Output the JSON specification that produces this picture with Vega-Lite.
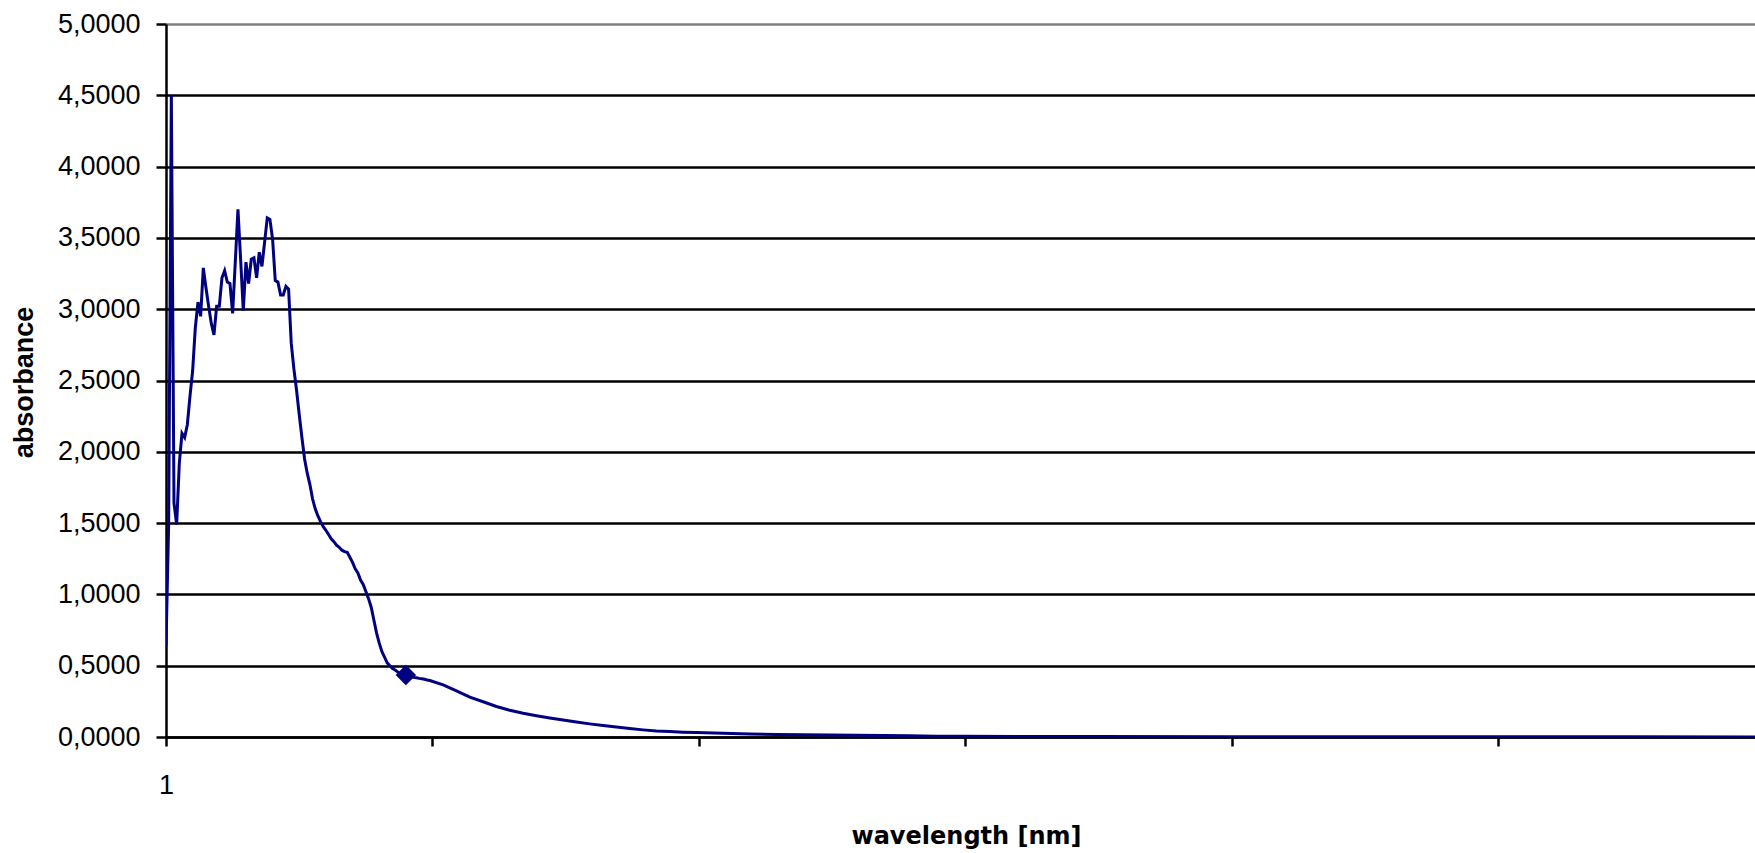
{
  "$schema": "https://vega.github.io/schema/vega-lite/v6.json",
  "autosize": {"type": "none"},
  "padding": {"left": 166, "top": 24, "right": 0, "bottom": 116},
  "width": 1589,
  "height": 713,
  "background": "white",
  "config": {"view": {"stroke": null}},
  "data": {"values": [
    {"n": 1, "absorbance": 0.64}, {"n": 2, "absorbance": 1.5}, {"n": 3, "absorbance": 4.5}, {"n": 4, "absorbance": 1.64},
    {"n": 5, "absorbance": 1.49}, {"n": 6, "absorbance": 1.92}, {"n": 7, "absorbance": 2.13}, {"n": 8, "absorbance": 2.1},
    {"n": 9, "absorbance": 2.19}, {"n": 10, "absorbance": 2.39}, {"n": 11, "absorbance": 2.57}, {"n": 12, "absorbance": 2.87},
    {"n": 13, "absorbance": 3.05}, {"n": 14, "absorbance": 2.95}, {"n": 15, "absorbance": 3.29}, {"n": 16, "absorbance": 3.15},
    {"n": 17, "absorbance": 3.02}, {"n": 18, "absorbance": 2.9}, {"n": 19, "absorbance": 2.82}, {"n": 20, "absorbance": 3.02},
    {"n": 21, "absorbance": 3.02}, {"n": 22, "absorbance": 3.22}, {"n": 23, "absorbance": 3.27}, {"n": 24, "absorbance": 3.19},
    {"n": 25, "absorbance": 3.18}, {"n": 26, "absorbance": 2.97}, {"n": 27, "absorbance": 3.33}, {"n": 28, "absorbance": 3.7},
    {"n": 29, "absorbance": 3.35}, {"n": 30, "absorbance": 2.99}, {"n": 31, "absorbance": 3.33}, {"n": 32, "absorbance": 3.18},
    {"n": 33, "absorbance": 3.35}, {"n": 34, "absorbance": 3.36}, {"n": 35, "absorbance": 3.22}, {"n": 36, "absorbance": 3.4},
    {"n": 37, "absorbance": 3.3}, {"n": 38, "absorbance": 3.47}, {"n": 39, "absorbance": 3.64}, {"n": 40, "absorbance": 3.63},
    {"n": 41, "absorbance": 3.49}, {"n": 42, "absorbance": 3.2}, {"n": 43, "absorbance": 3.19}, {"n": 44, "absorbance": 3.1},
    {"n": 45, "absorbance": 3.1}, {"n": 46, "absorbance": 3.16}, {"n": 47, "absorbance": 3.14}, {"n": 48, "absorbance": 2.76},
    {"n": 49, "absorbance": 2.58}, {"n": 50, "absorbance": 2.43}, {"n": 51, "absorbance": 2.26}, {"n": 52, "absorbance": 2.1},
    {"n": 53, "absorbance": 1.95}, {"n": 54, "absorbance": 1.85}, {"n": 55, "absorbance": 1.77}, {"n": 56, "absorbance": 1.67},
    {"n": 57, "absorbance": 1.6}, {"n": 58, "absorbance": 1.55}, {"n": 59, "absorbance": 1.51}, {"n": 60, "absorbance": 1.475},
    {"n": 61, "absorbance": 1.45}, {"n": 62, "absorbance": 1.42}, {"n": 63, "absorbance": 1.39}, {"n": 64, "absorbance": 1.37},
    {"n": 65, "absorbance": 1.345}, {"n": 66, "absorbance": 1.33}, {"n": 67, "absorbance": 1.31}, {"n": 68, "absorbance": 1.3},
    {"n": 69, "absorbance": 1.295}, {"n": 70, "absorbance": 1.26}, {"n": 71, "absorbance": 1.225}, {"n": 72, "absorbance": 1.18},
    {"n": 73, "absorbance": 1.15}, {"n": 74, "absorbance": 1.1}, {"n": 75, "absorbance": 1.07}, {"n": 76, "absorbance": 1.02},
    {"n": 77, "absorbance": 0.97}, {"n": 78, "absorbance": 0.91}, {"n": 79, "absorbance": 0.82}, {"n": 80, "absorbance": 0.73},
    {"n": 81, "absorbance": 0.66}, {"n": 82, "absorbance": 0.6}, {"n": 83, "absorbance": 0.56}, {"n": 84, "absorbance": 0.52},
    {"n": 85, "absorbance": 0.5}, {"n": 86, "absorbance": 0.48}, {"n": 87, "absorbance": 0.47}, {"n": 88, "absorbance": 0.455},
    {"n": 89, "absorbance": 0.445}, {"n": 90, "absorbance": 0.44}, {"n": 91, "absorbance": 0.435}, {"n": 92, "absorbance": 0.428},
    {"n": 93, "absorbance": 0.422}, {"n": 94, "absorbance": 0.418}, {"n": 95, "absorbance": 0.415}, {"n": 96, "absorbance": 0.411},
    {"n": 97, "absorbance": 0.408}, {"n": 98, "absorbance": 0.405}, {"n": 99, "absorbance": 0.4}, {"n": 100, "absorbance": 0.396},
    {"n": 105, "absorbance": 0.366}, {"n": 110, "absorbance": 0.324}, {"n": 115, "absorbance": 0.279}, {"n": 120, "absorbance": 0.247},
    {"n": 125, "absorbance": 0.214}, {"n": 130, "absorbance": 0.187}, {"n": 135, "absorbance": 0.166}, {"n": 140, "absorbance": 0.149},
    {"n": 145, "absorbance": 0.133}, {"n": 150, "absorbance": 0.119}, {"n": 155, "absorbance": 0.105}, {"n": 160, "absorbance": 0.092},
    {"n": 165, "absorbance": 0.081}, {"n": 170, "absorbance": 0.07}, {"n": 175, "absorbance": 0.06}, {"n": 180, "absorbance": 0.05},
    {"n": 185, "absorbance": 0.042}, {"n": 190, "absorbance": 0.038}, {"n": 195, "absorbance": 0.034}, {"n": 200, "absorbance": 0.031},
    {"n": 210, "absorbance": 0.026}, {"n": 220, "absorbance": 0.021}, {"n": 230, "absorbance": 0.018}, {"n": 240, "absorbance": 0.016},
    {"n": 250, "absorbance": 0.014}, {"n": 260, "absorbance": 0.012}, {"n": 270, "absorbance": 0.01}, {"n": 280, "absorbance": 0.008},
    {"n": 290, "absorbance": 0.006}, {"n": 300, "absorbance": 0.005}, {"n": 325, "absorbance": 0.004}, {"n": 350, "absorbance": 0.003},
    {"n": 400, "absorbance": 0.002}, {"n": 450, "absorbance": 0.0015}, {"n": 500, "absorbance": 0.001}, {"n": 550, "absorbance": 0.001},
    {"n": 601, "absorbance": 0.0005}
  ]},
  "layer": [
    {
      "mark": {"type": "line", "color": "#000080", "strokeWidth": 3, "clip": true},
      "encoding": {
        "x": {
          "field": "n", "type": "quantitative",
          "scale": {"domain": [1, 597.25], "nice": false, "zero": false},
          "axis": {
            "values": [1, 101, 201, 301, 401, 501],
            "grid": false,
            "domainColor": "black", "domainWidth": 2.5,
            "tickColor": "black", "tickWidth": 2.5, "tickSize": 9,
            "labelExpr": "datum.value == 1 ? '1' : ''",
            "labelFlush": false, "labelOverlap": false,
            "labelFont": "Liberation Sans", "labelFontSize": 27, "labelColor": "black", "labelPadding": 26,
            "title": "wavelength [nm]",
            "titleFont": "DejaVu Sans", "titleFontSize": 24, "titleFontWeight": "bold", "titleColor": "black",
            "titleX": 800, "titleY": 106, "titleBaseline": "alphabetic", "titleAlign": "center"
          }
        },
        "y": {
          "field": "absorbance", "type": "quantitative",
          "scale": {"domain": [0, 5], "nice": false},
          "axis": {
            "values": [0, 0.5, 1, 1.5, 2, 2.5, 3, 3.5, 4, 4.5, 5],
            "grid": true,
            "gridColor": {"condition": {"test": "datum.value == 5", "value": "#808080"}, "value": "black"},
            "gridWidth": 2.5,
            "domainColor": "black", "domainWidth": 2.5,
            "tickColor": "black", "tickWidth": 2.5, "tickSize": 10,
            "labelExpr": "replace(format(datum.value, '.4f'), '.', ',')",
            "labelFont": "Liberation Sans", "labelFontSize": 27, "labelColor": "black", "labelPadding": 16,
            "title": "absorbance",
            "titleFont": "Liberation Sans", "titleFontSize": 27, "titleFontWeight": "bold", "titleColor": "black",
            "titleAngle": 270, "titleX": -134, "titleY": 358, "titleBaseline": "alphabetic", "titleAlign": "center"
          }
        }
      }
    },
    {
      "transform": [{"filter": "datum.n == 91"}],
      "mark": {"type": "point", "shape": "diamond", "filled": true, "size": 420, "color": "#000080", "opacity": 1},
      "encoding": {
        "x": {"field": "n", "type": "quantitative"},
        "y": {"field": "absorbance", "type": "quantitative"}
      }
    }
  ]
}
